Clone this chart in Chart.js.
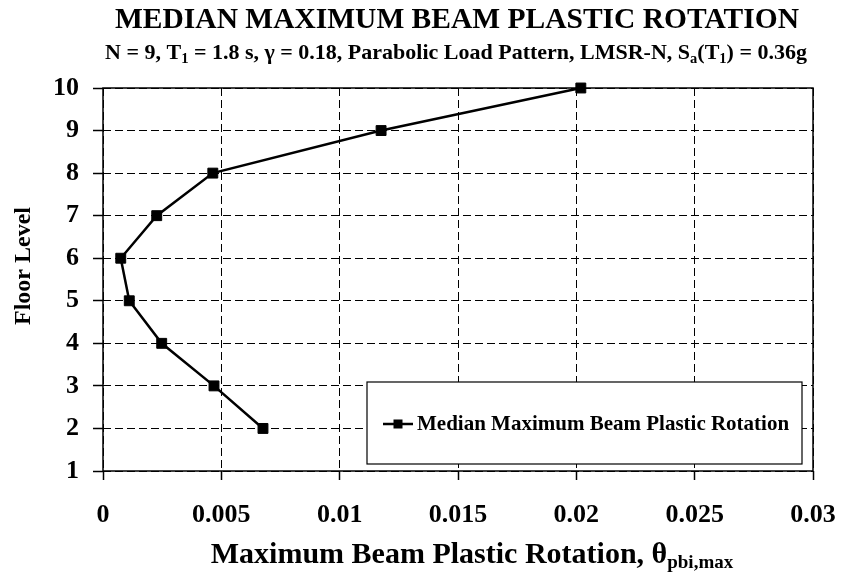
<!DOCTYPE html>
<html><head><meta charset="utf-8">
<script src="https://cdn.jsdelivr.net/npm/chart.js@4.4.1/dist/chart.umd.min.js"></script>
<style>html,body{margin:0;padding:0;background:#fff;overflow:hidden}</style>
</head><body>
<canvas id="c" width="842" height="575"></canvas>
<script>
// ---- data ----
const floorLevels  = [2, 3, 4, 5, 6, 7, 8, 9, 10];
const beamRotation = [0.00676, 0.00469, 0.00248, 0.00111, 0.00075, 0.00227, 0.00464, 0.01175, 0.02019];
const xTickValues  = [0, 0.005, 0.01, 0.015, 0.02, 0.025, 0.03];
const yTickValues  = [1, 2, 3, 4, 5, 6, 7, 8, 9, 10];
const seriesLabel  = 'Median Maximum Beam Plastic Rotation';
const titleText    = 'MEDIAN MAXIMUM BEAM PLASTIC ROTATION';
// subtitle pieces: [text, subscript?]
const subtitleParts = [
  ['N = 9, T', false], ['1', true], [' = 1.8 s, \u03B3 = 0.18, Parabolic Load Pattern, LMSR-N, S', false],
  ['a', true], ['(T', false], ['1', true], [') = 0.36g', false]
];
const xTitleParts = [['Maximum Beam Plastic Rotation, \u03B8', false], ['pbi,max', true]];
const yTitleText  = 'Floor Level';

const FONT = '"Liberation Serif", "Times New Roman", serif';

function drawParts(ctx, parts, cx, baseline, size, subSize, subDrop) {
  let total = 0;
  const widths = parts.map(([t, sub]) => {
    ctx.font = 'bold ' + (sub ? subSize : size) + 'px ' + FONT;
    const w = ctx.measureText(t).width; total += w; return w;
  });
  let x = cx - total / 2;
  ctx.textAlign = 'left'; ctx.textBaseline = 'alphabetic';
  parts.forEach(([t, sub], i) => {
    ctx.font = 'bold ' + (sub ? subSize : size) + 'px ' + FONT;
    ctx.fillText(t, x, baseline + (sub ? subDrop : 0));
    x += widths[i];
  });
}

const decor = {
  id: 'decor',
  beforeDatasetsDraw(chart) {
    const {ctx, chartArea: a} = chart;
    ctx.save();
    ctx.strokeStyle = '#000'; ctx.lineWidth = 1.5; ctx.setLineDash([]);
    ctx.strokeRect(a.left, a.top, a.right - a.left, a.bottom - a.top);
    ctx.restore();
  },
  afterDatasetsDraw(chart) {
    const {ctx, chartArea: a} = chart;
    ctx.save();
    ctx.fillStyle = '#000';
    // title + subtitle
    ctx.font = 'bold 29.5px ' + FONT; ctx.textAlign = 'center'; ctx.textBaseline = 'alphabetic';
    ctx.fillText(titleText, 457, 28);
    drawParts(ctx, subtitleParts, 456, 59, 22, 14.5, 4);
    // x title
    drawParts(ctx, xTitleParts, 472, 563, 30, 19, 5);
    // y title
    ctx.save();
    ctx.translate(24, 266); ctx.rotate(-Math.PI / 2);
    ctx.font = 'bold 24px ' + FONT; ctx.textAlign = 'center'; ctx.textBaseline = 'middle';
    ctx.fillText(yTitleText, 0, 0);
    ctx.restore();
    // legend box
    const lx = 367, ly = 382, lw = 435, lh = 82;
    ctx.fillStyle = '#fff'; ctx.fillRect(lx, ly, lw, lh);
    ctx.strokeStyle = '#000'; ctx.lineWidth = 1.2; ctx.strokeRect(lx, ly, lw, lh);
    const my = 424;
    ctx.lineWidth = 2.5; ctx.beginPath(); ctx.moveTo(383, my); ctx.lineTo(413, my); ctx.stroke();
    ctx.fillStyle = '#000'; ctx.fillRect(398 - 4.5, my - 4.5, 9, 9);
    ctx.font = 'bold 21px ' + FONT; ctx.textAlign = 'left'; ctx.textBaseline = 'middle';
    ctx.fillText(chart.data.datasets[0].label, 417, my + 1);
    ctx.restore();
  }
};

const tickFont = {family: FONT, weight: 'bold', size: 26};

new Chart(document.getElementById('c'), {
  type: 'scatter',
  data: {
    datasets: [{
      label: seriesLabel,
      data: floorLevels.map((f, i) => ({x: beamRotation[i], y: f})),
      showLine: true,
      borderColor: '#000', backgroundColor: '#000',
      borderWidth: 2.5,
      pointStyle: 'rect', pointRadius: 7, pointBorderWidth: 1,
      pointBackgroundColor: '#000', pointBorderColor: '#000',
      clip: false
    }]
  },
  options: {
    responsive: false, animation: false, devicePixelRatio: 1,
    layout: {padding: {top: 88, right: 29, left: 0, bottom: 0}},
    plugins: {legend: {display: false}, title: {display: false}, tooltip: {enabled: false}},
    scales: {
      x: {
        type: 'linear', min: 0, max: 0.03,
        afterBuildTicks: s => { s.ticks = xTickValues.map(v => ({value: v})); },
        afterFit: s => { s.height = 104; s.paddingRight = 0; s.paddingLeft = 0; },
        ticks: {font: tickFont, color: '#000', padding: 20, maxRotation: 0, autoSkip: false,
                callback: v => String(v)},
        grid: {color: '#000', lineWidth: 1, tickLength: 9, tickColor: '#000', tickWidth: 1.5, tickBorderDash: []},
        border: {display: false, dash: [8, 4]}
      },
      y: {
        type: 'linear', min: 1, max: 10,
        afterBuildTicks: s => { s.ticks = yTickValues.map(v => ({value: v})); },
        afterFit: s => { s.width = 103; },
        ticks: {font: tickFont, color: '#000', padding: 14, autoSkip: false, callback: v => String(v)},
        grid: {color: '#000', lineWidth: 1, tickLength: 10, tickColor: '#000', tickWidth: 1.5, tickBorderDash: []},
        border: {display: false, dash: [8, 4]}
      }
    }
  },
  plugins: [decor]
});
</script>
</body></html>
